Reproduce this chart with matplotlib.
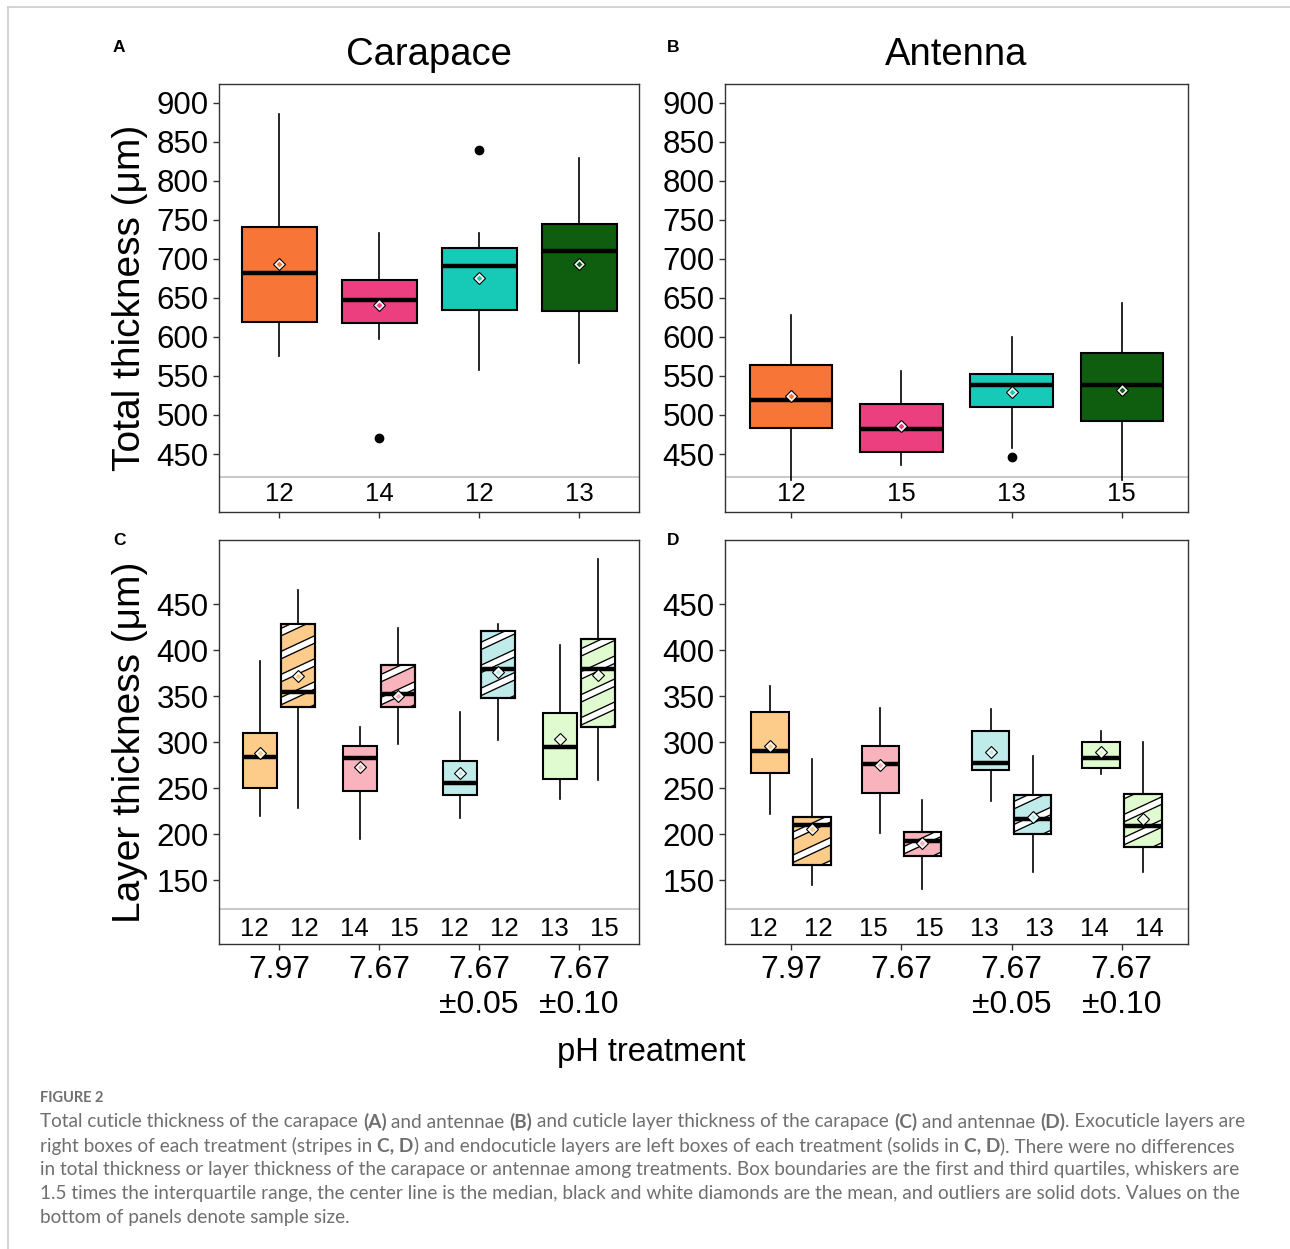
import numpy as np
import matplotlib.pyplot as plt
from matplotlib.lines import Line2D
from matplotlib.patches import PathPatch
from matplotlib.transforms import blended_transform_factory

plt.rcParams['font.family'] = ['Liberation Sans', 'DejaVu Sans']

groups = ['7.97', '7.67', '7.67\n±0.05', '7.67\n±0.10']

# A: carapace total thickness
a_lo = [575, 597, 558, 567]
a_q1 = [619, 618, 635, 633]
a_med = [682, 647, 691, 710]
a_q3 = [741, 673, 714, 745]
a_hi = [885, 733, 733, 829]
a_mean = [693, 641, 676, 694]
a_out = [[], [471], [840], []]
a_n = [12, 14, 12, 13]

# B: antenna total thickness
b_lo = [417, 436, 458, 417]
b_q1 = [483, 452, 510, 492]
b_med = [519, 482, 538, 538]
b_q3 = [564, 514, 552, 580]
b_hi = [628, 556, 600, 644]
b_mean = [524, 486, 529, 532]
b_out = [[], [], [446], []]
b_n = [12, 15, 13, 15]

# C: carapace layers (endo = solid, exo = striped)
c_endo_lo = [220, 195, 218, 238]
c_endo_q1 = [250, 247, 243, 260]
c_endo_med = [284, 283, 256, 295]
c_endo_q3 = [310, 296, 279, 332]
c_endo_hi = [388, 316, 333, 406]
c_endo_mean = [288, 273, 267, 303]
c_endo_n = [12, 14, 12, 13]
c_exo_lo = [229, 298, 302, 259]
c_exo_q1 = [338, 338, 348, 316]
c_exo_med = [354, 352, 379, 379]
c_exo_q3 = [428, 384, 421, 412]
c_exo_hi = [465, 424, 428, 499]
c_exo_mean = [372, 350, 376, 373]
c_exo_n = [12, 15, 12, 15]

# D: antenna layers
d_endo_lo = [222, 201, 236, 265]
d_endo_q1 = [266, 245, 270, 272]
d_endo_med = [290, 276, 277, 283]
d_endo_q3 = [333, 296, 312, 300]
d_endo_hi = [361, 337, 336, 312]
d_endo_mean = [296, 275, 289, 289]
d_endo_n = [12, 15, 13, 14]
d_exo_lo = [145, 140, 159, 159]
d_exo_q1 = [167, 176, 200, 186]
d_exo_med = [210, 193, 216, 209]
d_exo_q3 = [219, 202, 243, 244]
d_exo_hi = [282, 237, 285, 300]
d_exo_mean = [206, 190, 219, 217]
d_exo_n = [12, 15, 13, 14]

dark_cols = ['#F77637', '#EB3F80', '#17C9B7', '#0F5E0F']
pale_cols = ['#FDCB8A', '#F9B3BD', '#BFEBEA', '#DFFBCF']

W, H = 1290, 1249
fig = plt.figure(figsize=(W / 100, H / 100), dpi=100)


def px_axes(l, t, r, b):
    return fig.add_axes([l / W, 1 - b / H, (r - l) / W, (b - t) / H])


def make_stats(lo, q1, med, q3, hi, mean, out=None):
    st = []
    for i in range(len(lo)):
        st.append(dict(whislo=lo[i], q1=q1[i], med=med[i], q3=q3[i], whishi=hi[i],
                       mean=mean[i], fliers=out[i] if out else []))
    return st


def draw_boxes(ax, stats, pos, width, cols):
    res = ax.bxp(stats, positions=pos, widths=width, patch_artist=True, showmeans=True,
                 showcaps=False, manage_ticks=False,
                 boxprops=dict(linewidth=1.5, edgecolor='black'),
                 medianprops=dict(color='black', linewidth=3.2, solid_capstyle='butt'),
                 whiskerprops=dict(color='black', linewidth=1.2),
                 flierprops=dict(marker='o', markerfacecolor='black', markeredgecolor='black',
                                 markersize=6),
                 meanprops=dict(marker='D', markerfacecolor='white', markeredgecolor='black',
                                markersize=6.5, markeredgewidth=0.8))
    for b, c in zip(res['boxes'], cols):
        b.set_facecolor(c)
    for p, s, c in zip(pos, stats, cols):
        ax.plot(p, s['mean'], 'D', color=c, ms=3.0, mew=0, zorder=2.2)
    return res


def add_stripes(ax, box, x0, x1, y0, y1):
    tr = ax.transData
    (px0, py0), (px1, py1) = tr.transform([(x0, y0), (x1, y1)])
    period = 23.0
    slope = np.tan(np.radians(25))
    w = px1 - px0
    h = py1 - py0
    inv = tr.inverted()
    k0 = -int(np.ceil(slope * w / period)) - 1
    k1 = int(np.ceil(h / period)) + 1
    for k in range(k0, k1):
        ya = py0 + k * period + 6
        pts = inv.transform([(px0 - 5, ya - 5 * slope), (px1 + 5, ya + (w + 5) * slope)])
        for lw, col, z in ((5.8, 'black', 2.02), (3.9, 'white', 2.03)):
            ln, = ax.plot(pts[:, 0], pts[:, 1], color=col, lw=lw, solid_capstyle='butt', zorder=z)
            ln.set_clip_path(box)
    edge = PathPatch(box.get_path(), transform=box.get_transform(), fill=False,
                     edgecolor='black', linewidth=1.5, zorder=2.05)
    ax.add_patch(edge)


def style(ax, ylim, yticks, hline):
    for s in ax.spines.values():
        s.set_color('#333333')
        s.set_linewidth(1.0)
    ax.tick_params(direction='out', length=4.5, width=1.0, color='#333333',
                   labelsize=22.5, pad=3)
    ax.set_xlim(0.4, 4.6)
    ax.set_ylim(*ylim)
    ax.set_yticks(yticks)
    ax.set_xticks([1, 2, 3, 4])
    ax.axhline(hline, color='#c4c4c4', lw=1.3, zorder=1)


pos = np.array([1, 2, 3, 4])

axA = px_axes(219, 84, 639, 512)
axB = px_axes(725, 84, 1188, 512)
axC = px_axes(219, 540, 639, 944)
axD = px_axes(725, 540, 1188, 944)

for ax in (axA, axB):
    style(ax, (375.7, 924), np.arange(450, 901, 50), 420)
    ax.set_xticklabels([])
for ax in (axC, axD):
    style(ax, (80.8, 519.5), np.arange(150, 451, 50), 119)
    ax.set_xticklabels(groups, fontsize=23, linespacing=1.2)
    ax.tick_params(axis='x', pad=3.5)

draw_boxes(axA, make_stats(a_lo, a_q1, a_med, a_q3, a_hi, a_mean, a_out), pos, 0.75, dark_cols)
draw_boxes(axB, make_stats(b_lo, b_q1, b_med, b_q3, b_hi, b_mean, b_out), pos, 0.75, dark_cols)
for ax, n in ((axA, a_n), (axB, b_n)):
    tt = blended_transform_factory(ax.transData, ax.transAxes)
    for p, v in zip(pos, n):
        ax.text(p, 0.042, str(v), transform=tt, ha='center', va='center', fontsize=18.5)

axA.set_title('Carapace', fontsize=27.5, pad=14)
axB.set_title('Antenna', fontsize=27.5, pad=14)

layer_sets = [
    (axC, (c_endo_lo, c_endo_q1, c_endo_med, c_endo_q3, c_endo_hi, c_endo_mean), c_endo_n,
     (c_exo_lo, c_exo_q1, c_exo_med, c_exo_q3, c_exo_hi, c_exo_mean), c_exo_n),
    (axD, (d_endo_lo, d_endo_q1, d_endo_med, d_endo_q3, d_endo_hi, d_endo_mean), d_endo_n,
     (d_exo_lo, d_exo_q1, d_exo_med, d_exo_q3, d_exo_hi, d_exo_mean), d_exo_n),
]
bw = 0.34
for ax, endo, n_endo, exo, n_exo in layer_sets:
    draw_boxes(ax, make_stats(*endo), pos - 0.19, bw, pale_cols)
    res = draw_boxes(ax, make_stats(*exo), pos + 0.19, bw, pale_cols)
    for i, b in enumerate(res['boxes']):
        add_stripes(ax, b, pos[i] + 0.19 - bw / 2, pos[i] + 0.19 + bw / 2, exo[1][i], exo[3][i])
    tt = blended_transform_factory(ax.transData, ax.transAxes)
    for p, a, b in zip(pos, n_endo, n_exo):
        ax.text(p - 0.25, 0.038, str(a), transform=tt, ha='center', va='center', fontsize=18.5)
        ax.text(p + 0.25, 0.038, str(b), transform=tt, ha='center', va='center', fontsize=18.5)

fig.text(130 / W, 1 - 298 / H, 'Total thickness (μm)', rotation=90, ha='center', va='center',
         fontsize=28)
fig.text(130 / W, 1 - 742 / H, 'Layer thickness (μm)', rotation=90, ha='center', va='center',
         fontsize=28)
fig.text(651 / W, 1 - 1052 / H, 'pH treatment', ha='center', va='center', fontsize=23.5)

for lab, x, y in (('A', 119, 48), ('B', 673, 48), ('C', 119, 541), ('D', 673, 541)):
    fig.text(x / W, 1 - y / H, lab, ha='center', va='center', fontsize=12.5, weight='bold')

# page border
fig.add_artist(Line2D([8 / W, 1], [1 - 7 / H, 1 - 7 / H], transform=fig.transFigure,
                      color='#cccccc', lw=1.2))
fig.add_artist(Line2D([8 / W, 8 / W], [0, 1 - 7 / H], transform=fig.transFigure,
                      color='#cccccc', lw=1.2))

cap_col = '#6f6f6f'
cap_font = ['Lato', 'DejaVu Sans']
fig.text(40 / W, 1 - 1098 / H, 'FIGURE 2', fontsize=10.5, color=cap_col, family=cap_font,
         weight='bold', ha='left', va='center')

cap_lines = [
    [("Total cuticle thickness of the carapace ", False), ("(A)", True), (" and antennae ", False),
     ("(B)", True), (" and cuticle layer thickness of the carapace ", False), ("(C)", True),
     (" and antennae ", False), ("(D)", True), (". Exocuticle layers are", False)],
    [("right boxes of each treatment (stripes in ", False), ("C, D", True),
     (") and endocuticle layers are left boxes of each treatment (solids in ", False),
     ("C, D", True), ("). There were no differences", False)],
    [("in total thickness or layer thickness of the carapace or antennae among treatments. "
      "Box boundaries are the first and third quartiles, whiskers are", False)],
    [("1.5 times the interquartile range, the center line is the median, black and white "
      "diamonds are the mean, and outliers are solid dots. Values on the", False)],
    [("bottom of panels denote sample size.", False)],
]
renderer = fig.canvas.get_renderer()
for i, segs in enumerate(cap_lines):
    x = 40
    y = 1122 + 24 * i
    for s, bold in segs:
        t = fig.text(x / W, 1 - y / H, s, fontsize=13.7, color=cap_col, family=cap_font,
                     weight='bold' if bold else 'normal', ha='left', va='center')
        x += t.get_window_extent(renderer).width

fig.savefig('out.png', dpi=100)
